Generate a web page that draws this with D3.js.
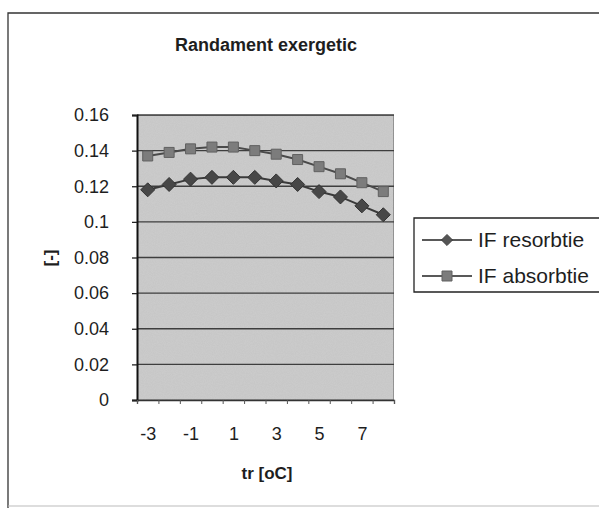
<!DOCTYPE html>
<html>
<head>
<meta charset="utf-8">
<script src="https://cdn.jsdelivr.net/npm/d3@7"></script>
<style>
  body { margin: 0; background: #fff; }
  text { font-family: "Liberation Sans", Arial, sans-serif; fill: #1e1e1e; }
</style>
</head>
<body>
<script>
// data
var temps = [-3, -2, -1, 0, 1, 2, 3, 4, 5, 6, 7, 8];
var resorbtie = [0.118, 0.121, 0.124, 0.125, 0.125, 0.125, 0.123, 0.121, 0.117, 0.114, 0.109, 0.104];
var absorbtie = [0.137, 0.139, 0.141, 0.142, 0.142, 0.140, 0.138, 0.135, 0.131, 0.127, 0.122, 0.117];
var xLabels = [-3, -1, 1, 3, 5, 7];
var yTicks = [0, 0.02, 0.04, 0.06, 0.08, 0.1, 0.12, 0.14, 0.16];
var seriesNames = ["IF resorbtie", "IF absorbtie"];

var W = 599, H = 512;
var plot = {left: 137, right: 394, top: 115, bottom: 400};

var svg = d3.select("body").append("svg")
    .attr("width", W)
    .attr("height", H);

// grainy look of the scan
var defs = svg.append("defs");
var f = defs.append("filter").attr("id", "grain").attr("x", 0).attr("y", 0).attr("width", 1).attr("height", 1);
f.append("feTurbulence").attr("type", "fractalNoise").attr("baseFrequency", 0.9).attr("numOctaves", 2).attr("seed", 3).attr("result", "n");
f.append("feColorMatrix").attr("in", "n").attr("type", "matrix")
    .attr("values", "0 0 0 0 0.4  0 0 0 0 0.4  0 0 0 0 0.4  0 0 0 0.25 0").attr("result", "g");
f.append("feComposite").attr("in", "g").attr("in2", "SourceGraphic").attr("operator", "in").attr("result", "gg");
f.append("feMerge").selectAll("feMergeNode").data(["SourceGraphic", "gg"]).enter()
    .append("feMergeNode").attr("in", function(d) { return d; });

// outer chart frame (cut off on the right like the scan)
svg.append("path")
    .attr("d", "M8,508 L8,13 L" + W + ",13")
    .attr("fill", "none")
    .attr("stroke", "#333")
    .attr("stroke-width", 1.3);
svg.append("line")
    .attr("x1", 8).attr("x2", W).attr("y1", 506).attr("y2", 506)
    .attr("stroke", "#bbb").attr("stroke-width", 1);

var x = d3.scaleLinear()
    .domain([-3.5, 8.5])
    .range([plot.left, plot.right]);

var y = d3.scaleLinear()
    .domain([0, 0.16])
    .range([plot.bottom, plot.top]);

// plot area
svg.append("rect")
    .attr("x", plot.left).attr("y", plot.top)
    .attr("width", plot.right - plot.left)
    .attr("height", plot.bottom - plot.top)
    .attr("fill", "#cdcdcd")
    .attr("stroke", "#666")
    .attr("stroke-width", 1.2)
    .attr("filter", "url(#grain)");

// gridlines
svg.append("g").selectAll("line")
    .data(yTicks.slice(1))
    .enter().append("line")
    .attr("x1", plot.left).attr("x2", plot.right)
    .attr("y1", function(d) { return y(d); })
    .attr("y2", function(d) { return y(d); })
    .attr("stroke", "#3e3e3e")
    .attr("stroke-width", 1.3);

// y axis
var yAxis = d3.axisLeft(y)
    .tickValues(yTicks)
    .tickSize(5)
    .tickPadding(23)
    .tickFormat(function(d) { return String(+d.toFixed(2)); });

var gy = svg.append("g")
    .attr("transform", "translate(" + plot.left + ",0)")
    .call(yAxis);
gy.select(".domain").attr("stroke", "#111").attr("stroke-width", 2);
gy.selectAll(".tick line").attr("stroke", "#222").attr("stroke-width", 1.3);
gy.selectAll(".tick text").style("font-size", "18px").attr("fill", "#1a1a1a");

// x axis: tick marks between categories, labels on every second one
var gxTicks = svg.append("g")
    .attr("transform", "translate(0," + plot.bottom + ")")
    .call(d3.axisBottom(x).tickValues(d3.range(-3.5, 9, 1)).tickSize(4).tickFormat(""));
gxTicks.select(".domain").attr("stroke", "#333").attr("stroke-width", 1.3);
gxTicks.selectAll(".tick line").attr("stroke", "#555");

var gx = svg.append("g")
    .attr("transform", "translate(0," + plot.bottom + ")")
    .call(d3.axisBottom(x).tickValues(xLabels).tickSize(0).tickPadding(27)
        .tickFormat(function(d) { return String(d); }));
gx.select(".domain").remove();
gx.selectAll(".tick text").style("font-size", "18px").attr("fill", "#1a1a1a");

// series
var line = d3.line()
    .x(function(d, i) { return x(temps[i]); })
    .y(function(d) { return y(d); });

svg.append("path")
    .datum(absorbtie)
    .attr("d", line)
    .attr("fill", "none")
    .attr("stroke", "#4a4a4a")
    .attr("stroke-width", 2);

svg.append("path")
    .datum(resorbtie)
    .attr("d", line)
    .attr("fill", "none")
    .attr("stroke", "#3a3a3a")
    .attr("stroke-width", 2);

var square = d3.symbol().type(d3.symbolSquare).size(100);
// square turned 45 degrees, as Excel draws its diamond
var diamondPath = "M0,-7L7,0L0,7L-7,0Z";

svg.append("g").selectAll("path")
    .data(absorbtie)
    .enter().append("path")
    .attr("d", square)
    .attr("transform", function(d, i) { return "translate(" + x(temps[i]) + "," + y(d) + ")"; })
    .attr("fill", "#7c7c7c")
    .attr("stroke", "#606060");

svg.append("g").selectAll("path")
    .data(resorbtie)
    .enter().append("path")
    .attr("d", diamondPath)
    .attr("transform", function(d, i) { return "translate(" + x(temps[i]) + "," + y(d) + ")"; })
    .attr("fill", "#474747")
    .attr("stroke", "#333");

// titles
svg.append("text")
    .attr("x", 266).attr("y", 51)
    .attr("text-anchor", "middle")
    .style("font-size", "18px")
    .style("font-weight", "bold")
    .text("Randament exergetic");

svg.append("text")
    .attr("x", 267).attr("y", 479)
    .attr("text-anchor", "middle")
    .style("font-size", "17px")
    .style("font-weight", "bold")
    .text("tr [oC]");

svg.append("text")
    .attr("transform", "translate(56,258) rotate(-90)")
    .attr("text-anchor", "middle")
    .style("font-size", "17px")
    .style("font-weight", "bold")
    .text("[-]");

// legend
var leg = svg.append("g");
leg.append("path")
    .attr("d", "M" + W + ",218 L414,218 L414,292 L" + W + ",292")
    .attr("fill", "#fff")
    .attr("stroke", "#222")
    .attr("stroke-width", 1.3);

var legRows = [
    {name: seriesNames[0], y: 240, d: diamondPath, fill: "#555", stroke: "#333", s: 0.8},
    {name: seriesNames[1], y: 276, d: square(), fill: "#7c7c7c", stroke: "#606060", s: 1}
];
var lr = leg.selectAll("g.row").data(legRows).enter().append("g").attr("class", "row");
lr.append("line")
    .attr("x1", 422).attr("x2", 472)
    .attr("y1", function(d) { return d.y; }).attr("y2", function(d) { return d.y; })
    .attr("stroke", "#222").attr("stroke-width", 1.6);
lr.append("path")
    .attr("d", function(d) { return d.d; })
    .attr("transform", function(d) { return "translate(447," + d.y + ") scale(" + d.s + ")"; })
    .attr("fill", function(d) { return d.fill; })
    .attr("stroke", function(d) { return d.stroke; });
lr.append("text")
    .attr("x", 478)
    .attr("y", function(d) { return d.y + 7; })
    .style("font-size", "21px")
    .text(function(d) { return d.name; });
</script>
</body>
</html>
